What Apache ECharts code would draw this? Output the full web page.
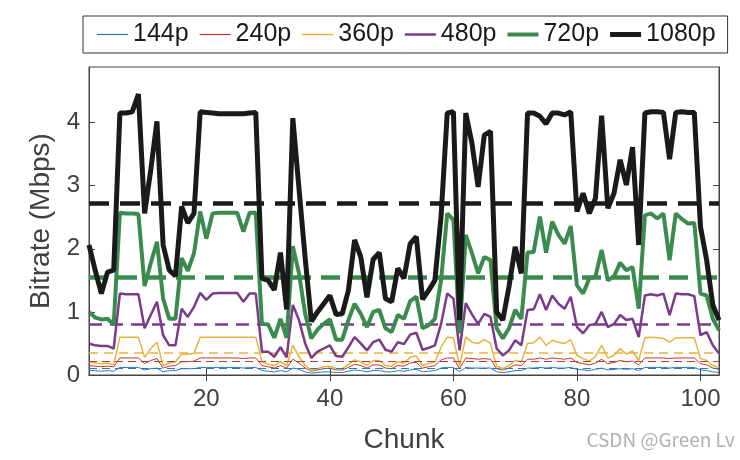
<!DOCTYPE html>
<html>
<head>
<meta charset="utf-8">
<script src="https://cdn.jsdelivr.net/npm/echarts@6/dist/echarts.min.js"></script>
<style>
  html, body { margin: 0; padding: 0; background: #fff; }
  #chart { width: 740px; height: 460px; }
</style>
</head>
<body>
<div id="chart"></div>
<script>
// chunk index 1..103
const chunks = Array.from({ length: 103 }, (_, i) => i + 1);

const names = ['144p', '240p', '360p', '480p', '720p', '1080p'];

const r144 = [0.07,0.07,0.06,0.07,0.06,0.12,0.12,0.12,0.12,0.08,0.10,0.11,0.05,0.07,0.07,0.10,0.10,0.10,0.12,0.12,
  0.12,0.12,0.12,0.12,0.12,0.11,0.12,0.12,0.07,0.06,0.05,0.07,0.05,0.11,0.09,0.05,0.03,0.04,0.05,0.05,
  0.04,0.04,0.06,0.08,0.07,0.05,0.07,0.07,0.05,0.05,0.07,0.06,0.08,0.09,0.05,0.06,0.07,0.11,0.12,0.12,
  0.05,0.12,0.11,0.11,0.11,0.11,0.05,0.04,0.05,0.07,0.07,0.11,0.11,0.12,0.11,0.12,0.11,0.11,0.12,0.09,
  0.08,0.07,0.09,0.11,0.08,0.09,0.10,0.09,0.10,0.07,0.12,0.12,0.12,0.12,0.11,0.12,0.12,0.12,0.12,0.08,
  0.07,0.05,0.04];
const r240 = [0.15,0.14,0.13,0.14,0.13,0.27,0.27,0.27,0.27,0.18,0.23,0.26,0.11,0.14,0.15,0.21,0.21,0.22,0.27,0.27,
  0.27,0.27,0.27,0.27,0.27,0.26,0.27,0.27,0.15,0.13,0.11,0.15,0.11,0.25,0.19,0.11,0.06,0.08,0.10,0.11,
  0.08,0.08,0.12,0.17,0.15,0.11,0.16,0.16,0.11,0.10,0.15,0.14,0.19,0.20,0.11,0.13,0.15,0.24,0.27,0.27,
  0.10,0.27,0.26,0.25,0.26,0.25,0.10,0.08,0.11,0.16,0.15,0.25,0.25,0.27,0.25,0.27,0.26,0.25,0.27,0.20,
  0.18,0.16,0.19,0.25,0.18,0.20,0.23,0.21,0.22,0.16,0.27,0.27,0.27,0.27,0.26,0.27,0.27,0.27,0.27,0.18,
  0.16,0.11,0.09];
const r360 = [0.21,0.19,0.18,0.19,0.16,0.60,0.60,0.60,0.60,0.28,0.42,0.52,0.15,0.19,0.21,0.33,0.33,0.34,0.60,0.60,
  0.60,0.60,0.60,0.60,0.60,0.60,0.60,0.60,0.21,0.17,0.15,0.21,0.15,0.47,0.29,0.15,0.07,0.10,0.13,0.14,
  0.10,0.10,0.17,0.24,0.21,0.15,0.23,0.23,0.15,0.14,0.21,0.19,0.28,0.30,0.15,0.18,0.21,0.44,0.60,0.59,
  0.14,0.60,0.52,0.50,0.56,0.50,0.14,0.10,0.15,0.23,0.21,0.50,0.51,0.60,0.47,0.55,0.52,0.50,0.56,0.31,
  0.26,0.22,0.29,0.47,0.27,0.31,0.42,0.33,0.38,0.23,0.59,0.60,0.59,0.58,0.52,0.59,0.59,0.59,0.59,0.26,
  0.23,0.15,0.12];
const r480 = [0.50,0.47,0.46,0.46,0.42,1.29,1.28,1.28,1.28,0.74,0.95,1.16,0.63,0.47,0.47,1.05,0.92,1.08,1.30,1.19,
  1.29,1.30,1.30,1.30,1.30,1.16,1.29,1.29,0.37,0.37,0.29,0.44,0.28,1.11,0.87,0.50,0.27,0.37,0.42,0.47,
  0.30,0.29,0.44,0.60,0.50,0.39,0.52,0.56,0.40,0.37,0.52,0.49,0.64,0.67,0.40,0.43,0.47,0.81,1.29,1.21,
  0.39,1.14,0.96,0.81,0.97,0.92,0.42,0.31,0.39,0.55,0.47,1.03,1.04,1.28,1.03,1.26,1.13,1.05,1.24,0.76,
  0.66,0.79,0.81,1.00,0.76,0.81,0.95,0.87,0.89,0.60,1.26,1.28,1.26,1.29,0.95,1.29,1.28,1.28,1.25,0.63,
  0.68,0.47,0.34];
const r720 = [1.00,0.91,0.88,0.89,0.80,2.57,2.56,2.56,2.55,1.41,1.77,2.11,1.21,0.89,0.89,1.85,1.65,1.93,2.59,2.16,
  2.56,2.57,2.57,2.57,2.57,2.27,2.57,2.57,0.81,0.80,0.59,0.89,0.59,2.04,1.61,0.97,0.58,0.72,0.81,0.88,
  0.56,0.56,0.87,1.13,0.97,0.76,1.00,1.03,0.74,0.68,0.95,0.89,1.17,1.24,0.74,0.79,0.89,1.50,2.56,2.46,
  0.66,2.22,1.93,1.61,1.87,1.82,0.74,0.58,0.74,1.03,0.89,1.94,1.95,2.51,1.94,2.43,2.22,2.08,2.36,1.42,
  1.29,1.53,1.56,1.98,1.50,1.56,1.78,1.66,1.71,1.05,2.53,2.56,2.48,2.56,1.82,2.56,2.47,2.40,2.41,1.29,
  1.26,0.89,0.71];
const r1080 = [2.06,1.66,1.29,1.63,1.66,4.15,4.15,4.17,4.45,2.56,3.25,4.02,2.06,1.66,1.57,2.67,2.41,2.56,4.17,4.16,
  4.15,4.14,4.14,4.14,4.14,4.14,4.15,4.16,1.53,1.50,1.35,1.94,1.04,4.07,2.95,1.85,0.85,1.00,1.13,1.26,
  0.96,0.97,1.34,2.14,1.87,1.23,1.83,1.94,1.21,1.16,1.69,1.53,2.08,2.19,1.20,1.34,1.50,2.51,4.15,4.17,
  0.87,4.15,3.67,2.98,3.80,3.86,1.00,0.87,1.40,2.03,1.61,4.15,4.15,4.10,3.98,4.15,4.15,4.12,4.17,2.59,
  2.88,2.56,2.80,4.11,2.64,2.88,3.41,3.01,3.61,2.06,4.15,4.17,4.17,4.16,3.42,4.16,4.17,4.16,4.16,2.35,
  1.82,1.11,0.87];

// mean bitrate of each resolution (dashed lines)
const means = [0.11, 0.22, 0.365, 0.80, 1.55, 2.72];

const xTicks = [20, 40, 60, 80, 100];
const yTicks = [0, 1, 2, 3, 4];

const colors = ['#2f78b7', '#c0392f', '#e6b43c', '#7b3a8c', '#3b8a4e', '#1a1a1a'];
const widths = [1, 1, 1.5, 2.5, 4, 5];
const dashWidths = [1, 1, 1.5, 2.5, 4.5, 4.5];
const dashes = [[8, 5], [8, 5], [9, 6], [13, 8], [19, 10], [20, 11]];
const values = [r144, r240, r360, r480, r720, r1080];

const chart = echarts.init(document.getElementById('chart'));

const series = names.map((name, k) => ({
    name: name,
    type: 'line',
    symbol: 'none',
    showSymbol: false,
    color: colors[k],
    lineStyle: { width: widths[k], color: colors[k] },
    data: values[k].map((v, i) => [chunks[i], v]),
    z: 2 + k,
    markLine: {
        silent: true,
        symbol: 'none',
        label: { show: false },
        lineStyle: { type: dashes[k], width: dashWidths[k], color: colors[k] },
        data: [{ yAxis: means[k] }]
    }
}));

const tickStyle = { color: '#444', width: 1 };
const labelStyle = { color: '#404040', fontSize: 24, fontFamily: 'Liberation Sans, Arial' };

chart.setOption({
    animation: false,
    backgroundColor: '#fff',
    grid: { left: 89, right: 21, top: 67, bottom: 85, show: true, borderColor: '#444', borderWidth: 1 },
    legend: {
        // legend samples: flat bars as thick as their series line
        data: names.map((name, k) => ({
            name: name,
            icon: 'path://M0,0H31V' + Math.max(widths[k], 1.2) + 'H0Z',
            itemStyle: { color: colors[k] }
        })),
        left: 83,
        top: 16,
        padding: [6, 12, 6, 14],
        itemGap: 11,
        itemWidth: 31,
        itemHeight: 14,
        borderColor: '#333',
        borderWidth: 1,
        textStyle: { color: '#1a1a1a', fontSize: 25, fontFamily: 'Liberation Sans, Arial' }
    },
    xAxis: [{
        type: 'value',
        min: 1,
        max: 103,
        name: 'Chunk',
        nameLocation: 'middle',
        nameGap: 51,
        nameTextStyle: { color: '#404040', fontSize: 28, fontFamily: 'Liberation Sans, Arial' },
        splitLine: { show: false },
        axisLine: { lineStyle: { color: '#444' } },
        axisTick: { inside: true, length: 6, lineStyle: tickStyle, customValues: xTicks },
        axisLabel: Object.assign({ margin: 12, customValues: xTicks }, labelStyle)
    }, {
        type: 'value',
        position: 'top',
        min: 1,
        max: 103,
        splitLine: { show: false },
        axisLine: { lineStyle: { color: '#444' } },
        axisTick: { inside: true, length: 6, lineStyle: tickStyle, customValues: xTicks },
        axisLabel: { show: false }
    }],
    yAxis: [{
        type: 'value',
        min: 0,
        max: 4.88,
        name: 'Bitrate (Mbps)',
        nameLocation: 'middle',
        nameGap: 32,
        nameTextStyle: { color: '#404040', fontSize: 28, fontFamily: 'Liberation Sans, Arial' },
        splitLine: { show: false },
        axisLine: { show: true, lineStyle: { color: '#444' } },
        axisTick: { show: true, inside: true, length: 6, lineStyle: tickStyle, customValues: yTicks },
        axisLabel: Object.assign({ margin: 9, customValues: yTicks }, labelStyle)
    }, {
        type: 'value',
        position: 'right',
        min: 0,
        max: 4.88,
        splitLine: { show: false },
        axisLine: { show: true, lineStyle: { color: '#444' } },
        axisTick: { show: true, inside: true, length: 6, lineStyle: tickStyle, customValues: yTicks },
        axisLabel: { show: false }
    }],
    graphic: [{
        type: 'text',
        right: 5,
        top: 430,
        style: { text: 'CSDN @Green Lv', fill: '#b0b0b0', fontSize: 19, fontFamily: 'Noto Sans CJK SC, Liberation Sans' }
    }],
    series: series
});
</script>
</body>
</html>
